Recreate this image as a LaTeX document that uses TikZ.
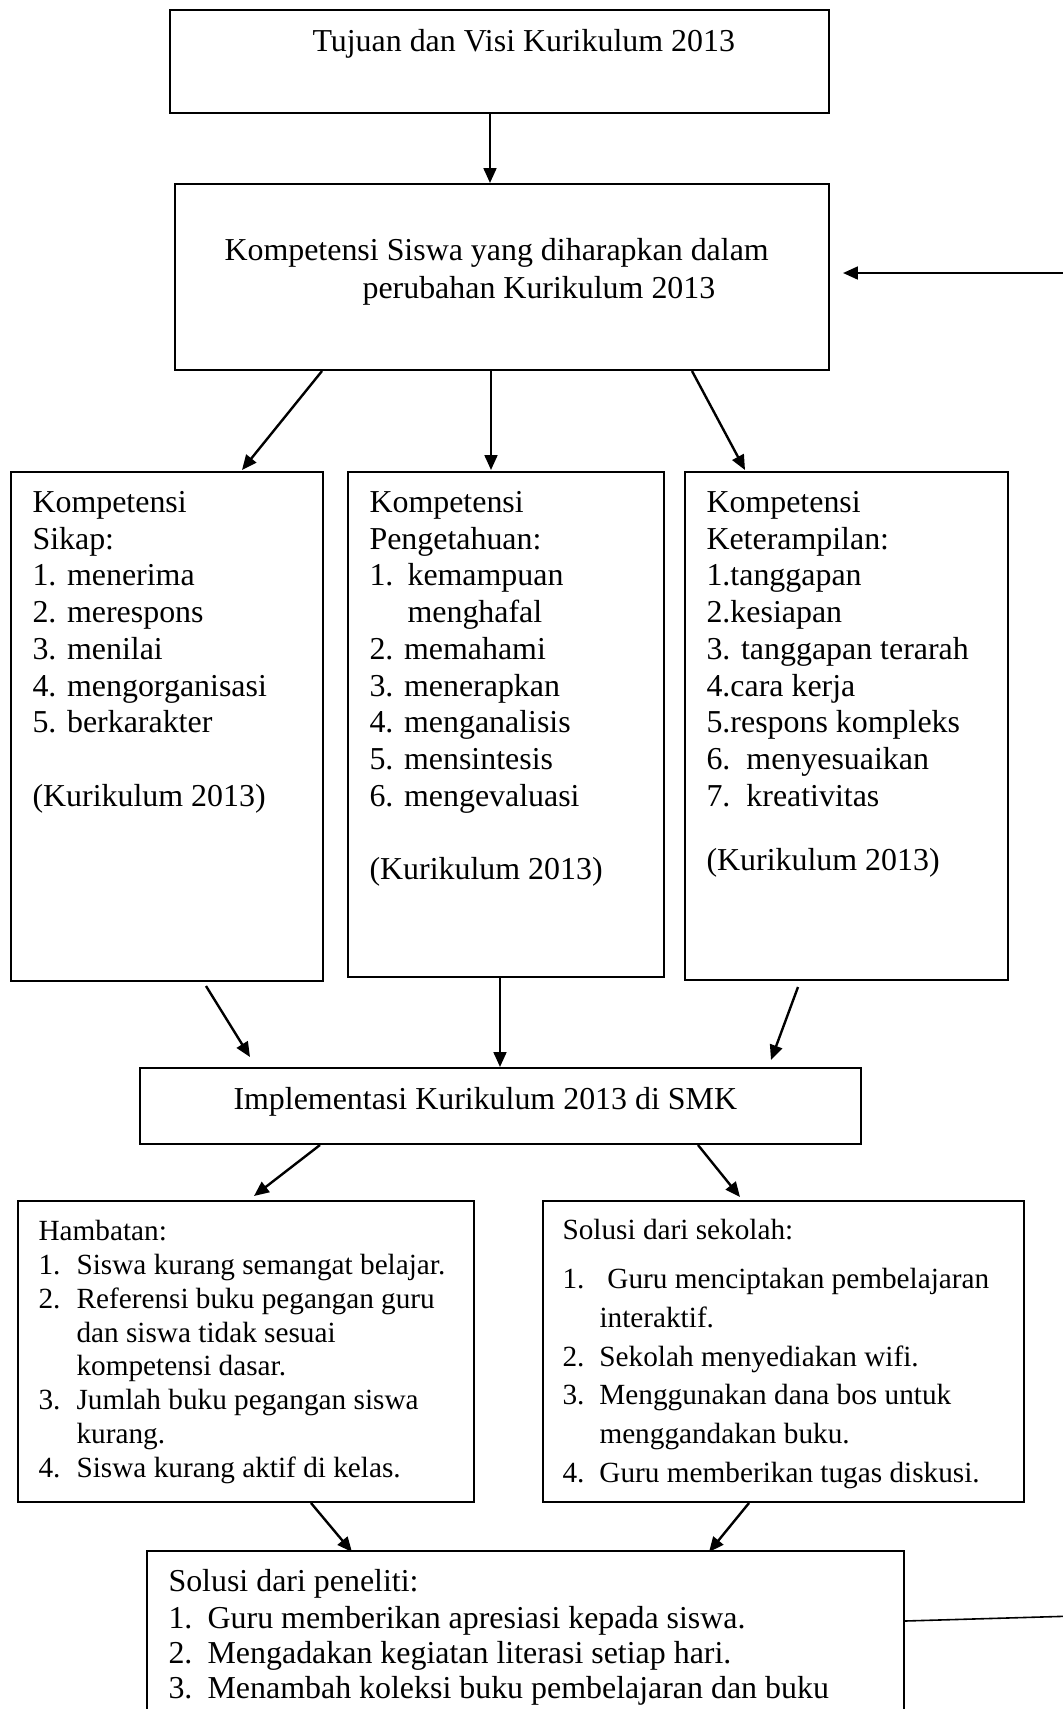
\documentclass[tikz,border=0pt]{standalone}
\usepackage{fontspec}
\setmainfont{Liberation Serif}
\usetikzlibrary{arrows.meta,calc,fit}
\begin{document}
\begin{tikzpicture}[x=0.376pt,y=-0.376pt,
  box/.style={draw, line width=0.75pt, inner sep=0pt},
  arr/.style={line width=0.9pt, -{Triangle[length=5.6pt,width=4.8pt]}},
  plain/.style={line width=0.6pt},
  onetext/.style={anchor=base west, inner sep=0pt, font=\fontsize{12}{13.8}\selectfont},
  multitext/.style={anchor=north west, inner sep=0pt, align=left},
  f12/.style={font=\fontsize{12}{13.8}\selectfont},
]
\useasboundingbox (0,0) rectangle (1063,1709);
\clip (0,0) rectangle (1063,1709);
\fill[white] (0,0) rectangle (1063,1709);

% boxes
\node[box, fit={(170,10) (829,113)}] (b1) {};
\node[box, fit={(175,184) (829,370)}] (b2) {};
\node[box, fit={(11,472) (323,981)}] (sikap) {};
\node[box, fit={(348,472) (664,977)}] (peng) {};
\node[box, fit={(685,472) (1008,980)}] (ket) {};
\node[box, fit={(140,1068) (861,1144)}] (impl) {};
\node[box, fit={(18,1201) (474,1502)}] (hamb) {};
\node[box, fit={(543,1201) (1024,1502)}] (sek) {};
\node[box, fit={(147,1551) (904,1780)}] (pen) {};

% texts
\node[onetext] (t1) at (312,51) {Tujuan dan Visi Kurikulum 2013};
\node[multitext, font=\fontsize{12}{14.3}\selectfont] (t2) at (224,233) {\strut Kompetensi Siswa yang diharapkan dalam\\\hspace*{51.9pt}perubahan Kurikulum 2013};

\node[multitext, f12] (tsikap) at (32,486.3) {\strut Kompetensi\\Sikap:\\1. menerima\\2. merespons\\3. menilai\\4. mengorganisasi\\5. berkarakter\\[13.8pt](Kurikulum 2013)};

\node[multitext, f12] (tpeng) at (369,486.3) {\strut Kompetensi\\Pengetahuan:\\\makebox[14.3pt][l]{1.}kemampuan\\\hspace*{14.3pt}menghafal\\2. memahami\\3. menerapkan\\4. menganalisis\\5. mensintesis\\6. mengevaluasi\\[13.8pt](Kurikulum 2013)};

\node[multitext, f12] (tket) at (706,486.3) {\strut Kompetensi\\Keterampilan:\\1.tanggapan\\2.kesiapan\\3. tanggapan terarah\\4.cara kerja\\5.respons kompleks\\6.\ \ menyesuaikan\\7.\ \ kreativitas\\[10.3pt](Kurikulum 2013)};

\node[onetext] (timpl) at (233,1109) {Implementasi Kurikulum 2013 di SMK};

\node[multitext, font=\fontsize{11}{12.7}\selectfont] (thamb) at (38,1216.5) {\strut Hambatan:\\\makebox[14.3pt][l]{1.}Siswa kurang semangat belajar.\\\makebox[14.3pt][l]{2.}Referensi buku pegangan guru\\\hspace*{14.3pt}dan siswa tidak sesuai\\\hspace*{14.3pt}kompetensi dasar.\\\makebox[14.3pt][l]{3.}Jumlah buku pegangan siswa\\\hspace*{14.3pt}kurang.\\\makebox[14.3pt][l]{4.}Siswa kurang aktif di kelas.};

\node[multitext, font=\fontsize{11}{14.6}\selectfont] (tsek) at (562,1211.8) {\strut Solusi dari sekolah:\\[3.8pt]\makebox[13.9pt][l]{1.}\hspace*{3pt}Guru menciptakan pembelajaran\\\hspace*{13.9pt}interaktif.\\\makebox[13.9pt][l]{2.}Sekolah menyediakan wifi.\\\makebox[13.9pt][l]{3.}Menggunakan dana bos untuk\\\hspace*{13.9pt}menggandakan buku.\\\makebox[13.9pt][l]{4.}Guru memberikan tugas diskusi.};

\node[multitext, font=\fontsize{12}{13.2}\selectfont] (tpen) at (168,1566.4) {\strut Solusi dari peneliti:\\[0.7pt]\makebox[14.7pt][l]{1.}Guru memberikan apresiasi kepada siswa.\\\makebox[14.7pt][l]{2.}Mengadakan kegiatan literasi setiap hari.\\\makebox[14.7pt][l]{3.}Menambah koleksi buku pembelajaran dan buku};

% free ends
\coordinate (rin) at (1075,273);
\coordinate (rout) at (1075,1616);

% connectors
\draw[arr] ($(b1.south west)+(321,0)$) -- ($(b2.north west)+(316,0)$);
\draw[arr] ($(b2.south west)+(148,0)$) -- ($(sikap.north west)+(232,-1)$);
\draw[arr] ($(b2.south west)+(317,0)$) -- ($(peng.north west)+(144,-1)$);
\draw[arr] ($(b2.south west)+(518,0)$) -- ($(ket.north west)+(61,-1)$);
\draw[arr] ($(sikap.south west)+(196,4)$) -- ($(impl.north west)+(111,-10)$);
\draw[arr] ($(peng.south west)+(153,0)$) -- ($(impl.north west)+(361,0)$);
\draw[arr] ($(ket.south west)+(114,6)$) -- ($(impl.north west)+(632,-7)$);
\draw[arr] ($(impl.south west)+(181,0)$) -- ($(hamb.north west)+(237,-4)$);
\draw[arr] ($(impl.south west)+(559,0)$) -- ($(sek.north west)+(198,-3)$);
\draw[arr] ($(hamb.south west)+(294,0)$) -- ($(pen.north west)+(206,2)$);
\draw[arr] ($(sek.south west)+(207,0)$) -- ($(pen.north west)+(563,2)$);
\draw[arr] (rin) -- ($(b2.east)+(13,-4)$);
\draw[plain] ($(pen.north east)+(0,71)$) -- (rout);
\end{tikzpicture}
\end{document}
